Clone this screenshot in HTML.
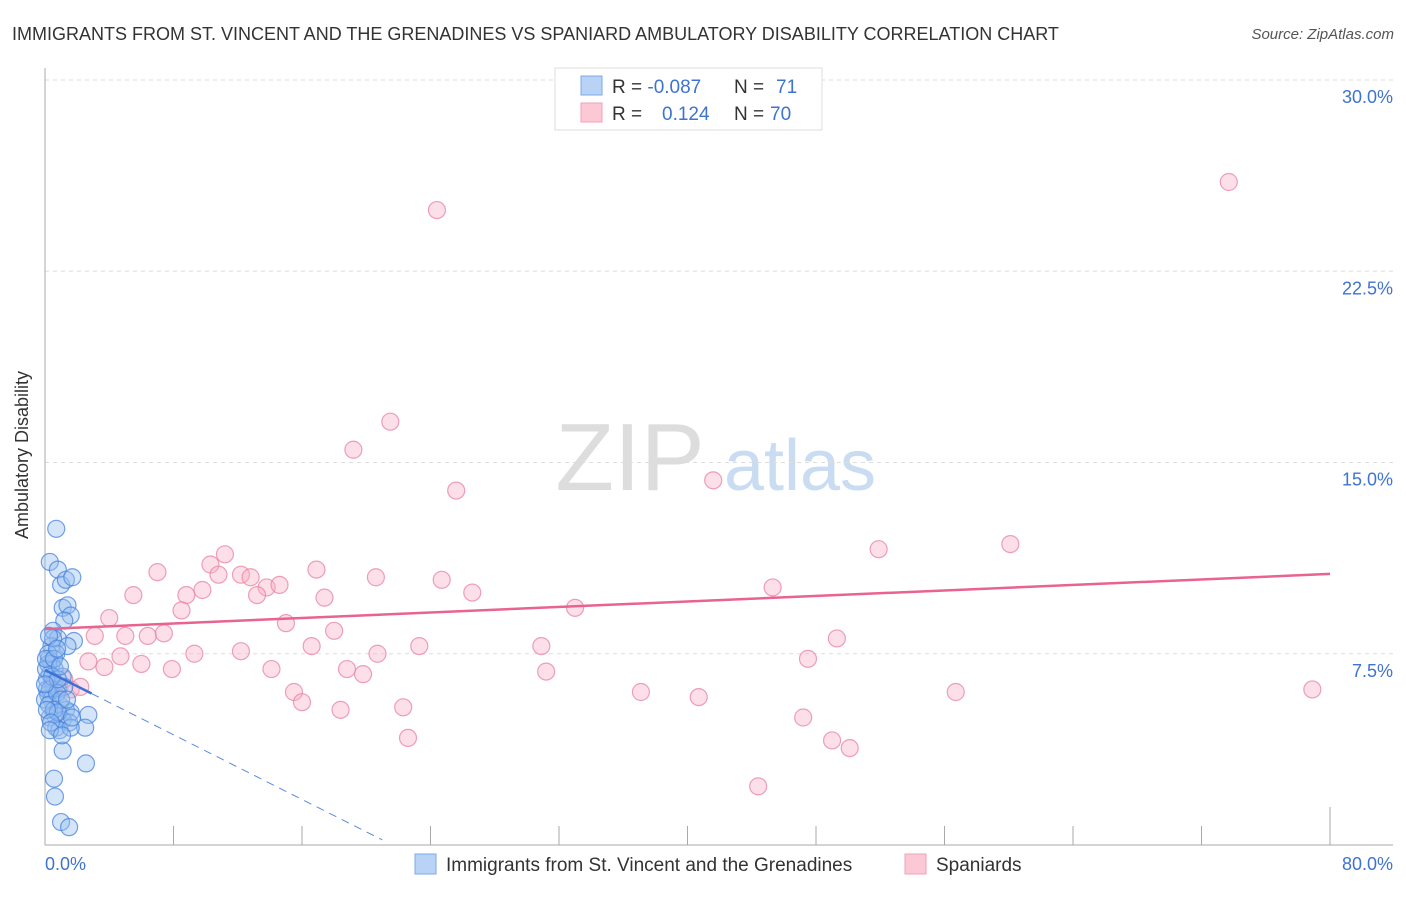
<!DOCTYPE html>
<html><head><meta charset="utf-8"><style>
body{margin:0;background:#fff;font-family:"Liberation Sans",sans-serif}
svg text{font-family:"Liberation Sans",sans-serif}
</style></head><body>
<svg width="1406" height="892" xmlns="http://www.w3.org/2000/svg" id="chart">
<text x="12" y="40" font-size="18" fill="#333">IMMIGRANTS FROM ST. VINCENT AND THE GRENADINES VS SPANIARD AMBULATORY DISABILITY CORRELATION CHART</text>
<text x="1394" y="39" font-size="15" fill="#555" font-style="italic" text-anchor="end">Source: ZipAtlas.com</text>
<g><text x="630" y="490" font-size="96" fill="#ddd" font-family="Liberation Serif" text-anchor="middle">ZIP</text><text x="800" y="490" font-size="72" fill="#c9dcf2" text-anchor="middle">atlas</text></g>
<g id="grid"></g><g id="axes"></g><g id="pink"></g><g id="blue"></g><g id="trends"></g>
<text x="28" y="455" font-size="18" fill="#333" text-anchor="middle" transform="rotate(-90 28 455)">Ambulatory Disability</text>
<text x="45" y="870" font-size="18" fill="#3f73d0">0.0%</text>
<text x="1393" y="870" font-size="18" fill="#3f73d0" text-anchor="end">80.0%</text>
<g>
<rect x="555" y="68" width="267" height="62" fill="#fff" stroke="#ddd"/>
<rect x="581" y="76" width="21" height="19" fill="#b8d3f5" stroke="#7da8e6"/>
<rect x="581" y="103" width="21" height="19" fill="#fcc8d6" stroke="#f0a0b8"/>
<text x="612" y="93" font-size="19" fill="#333">R = <tspan fill="#3f73d0">-0.087</tspan><tspan x="734">N = </tspan><tspan x="776" fill="#3f73d0">71</tspan></text>
<text x="612" y="120" font-size="19" fill="#333">R = <tspan x="662" fill="#3f73d0">0.124</tspan><tspan x="734">N = </tspan><tspan x="770" fill="#3f73d0">70</tspan></text>
</g>
<g><rect x="415" y="854" width="21" height="20" fill="#b8d3f5" stroke="#7da8e6"/><text x="446" y="871" font-size="19" fill="#333">Immigrants from St. Vincent and the Grenadines</text></g>
<g><rect x="905" y="854" width="21" height="20" fill="#fcc8d6" stroke="#f0a0b8"/><text x="936" y="871" font-size="19" fill="#333">Spaniards</text></g>
</svg>
<script>
const yTicks=[7.5,15,22.5,30];
const xTicks=[0,8,16,24,32,40,48,56,64,72,80];
const pinkX=[24.4,73.7,21.5,19.2,25.6,41.6,51.9,60.1,11.2,10.3,7.0,12.2,9.8,10.8,13.8,14.6,20.6,26.6,12.8,16.9,24.7,45.3,5.5,8.8,13.2,17.4,4.0,8.5,33.0,15.0,3.1,5.0,6.4,7.4,18.0,49.3,30.9,23.3,16.6,12.2,9.3,4.7,2.7,6.0,7.9,14.1,18.8,19.8,20.7,31.2,47.5,3.7,15.5,16.0,18.4,22.3,22.6,37.1,40.7,56.7,78.9,47.2,49.0,50.1,44.4,0.9,1.6,2.2,1.2,0.6];
const pinkY=[24.9,26.0,16.6,15.5,13.9,14.3,11.6,11.8,11.4,11.0,10.7,10.6,10.0,10.6,10.1,10.2,10.5,9.9,10.5,10.8,10.4,10.1,9.8,9.8,9.8,9.7,8.9,9.2,9.3,8.7,8.2,8.2,8.2,8.3,8.4,8.1,7.8,7.8,7.8,7.6,7.5,7.4,7.2,7.1,6.9,6.9,6.9,6.7,7.5,6.8,7.3,6.98,6.0,5.6,5.3,5.4,4.2,6.0,5.8,6.0,6.1,5.0,4.1,3.8,2.3,6.2,6.1,6.2,6.5,6.3];
const blueX=[0.7,0.3,0.8,1.0,1.3,1.7,1.1,1.4,1.6,1.2,0.5,0.8,1.8,1.4,0.4,0.7,0.25,0.4,0.6,0.3,0.12,0.5,0.8,0.2,0.4,0.9,1.3,1.6,0.6,0.3,1.1,1.5,0.7,0.9,0.2,0.06,0.12,0.3,0,0.25,0.5,1.1,1.2,0.75,1.0,0.56,0.8,2.7,2.5,1.6,1.1,2.55,0.56,0.62,1.0,1.5,0.2,0.06,0.44,0.8,0.12,0.37,0.56,0.25,0.75,0,0.93,1.37,1.68,0.3,1.06];
const blueY=[12.4,11.1,10.8,10.2,10.4,10.5,9.3,9.4,9.0,8.8,8.4,8.1,8.0,7.8,7.8,7.5,7.3,7.1,6.9,6.7,6.5,6.3,6.1,5.9,5.7,5.5,5.3,5.2,5.1,5.0,4.9,4.8,4.6,4.5,7.1,6.9,6.1,6.1,5.7,5.5,8.1,6.6,6.2,5.96,5.7,5.3,5.2,5.1,4.6,4.6,3.7,3.2,2.6,1.9,0.9,0.7,7.5,7.3,6.6,6.5,5.3,4.8,7.3,8.2,7.7,6.3,7.0,5.7,5.0,4.5,4.3];
const pinkTrend=[8.47,10.63];
const blueTrend=[6.86,0.2];const blueTrendEnd=21.0;const blueSolidEnd=2.9;
const X=v=>45+v*16.0625, Y=v=>845-v*25.5;
const NS='http://www.w3.org/2000/svg';
function mk(p,t,a){const e=document.createElementNS(NS,t);for(const k in a)e.setAttribute(k,a[k]);document.getElementById(p).appendChild(e);return e;}
yTicks.forEach(t=>{
 const l=mk('grid','line',{x1:45,x2:1393,y1:Y(t),y2:Y(t),stroke:'#ddd','stroke-dasharray':'4,4'});
 
 
 const tx=mk('grid','text',{x:1393,y:Y(t)+23,'font-size':18,fill:'#3f73d0','text-anchor':'end'});
 tx.textContent=t.toFixed(1)+'%';
 
 
});
let a=mk('axes','line',{x1:45,x2:45,y1:68,y2:845,stroke:'#aaa'});


a=mk('axes','line',{x1:45,x2:1393,y1:845,y2:845,stroke:'#aaa'});


xTicks.forEach((t,i)=>{
 const l=mk('axes','line',{x1:X(t),x2:X(t),y1:i==xTicks.length-1?807:826,y2:845,stroke:'#aaa'});
 
 
});
pinkX.forEach((v,i)=>{
 const c=mk('pink','circle',{cx:X(v),cy:Y(pinkY[i]),r:8.5,fill:'rgba(248,175,198,0.4)',stroke:'rgba(232,130,160,0.75)','stroke-width':1.2});
 
 
});
blueX.forEach((v,i)=>{
 const c=mk('blue','circle',{cx:X(v),cy:Y(blueY[i]),r:8.5,fill:'rgba(150,190,240,0.4)',stroke:'rgba(70,130,220,0.75)','stroke-width':1.2});
 
 
});
let t=mk('trends','line',{x1:X(0),y1:Y(pinkTrend[0]),x2:X(80),y2:Y(pinkTrend[1]),stroke:'#e8638f','stroke-width':2.5});


const by=x=>blueTrend[0]+(blueTrend[1]-blueTrend[0])*x/blueTrendEnd;
t=mk('trends','line',{x1:X(0),y1:Y(blueTrend[0]),x2:X(blueSolidEnd),y2:Y(by(blueSolidEnd)),stroke:'#3c72d6','stroke-width':2.5});


t=mk('trends','line',{x1:X(blueSolidEnd),y1:Y(by(blueSolidEnd)),x2:X(blueTrendEnd),y2:Y(blueTrend[1]),stroke:'#5a8ae0','stroke-width':1,'stroke-dasharray':'8,6'});


</script>
</body></html>
